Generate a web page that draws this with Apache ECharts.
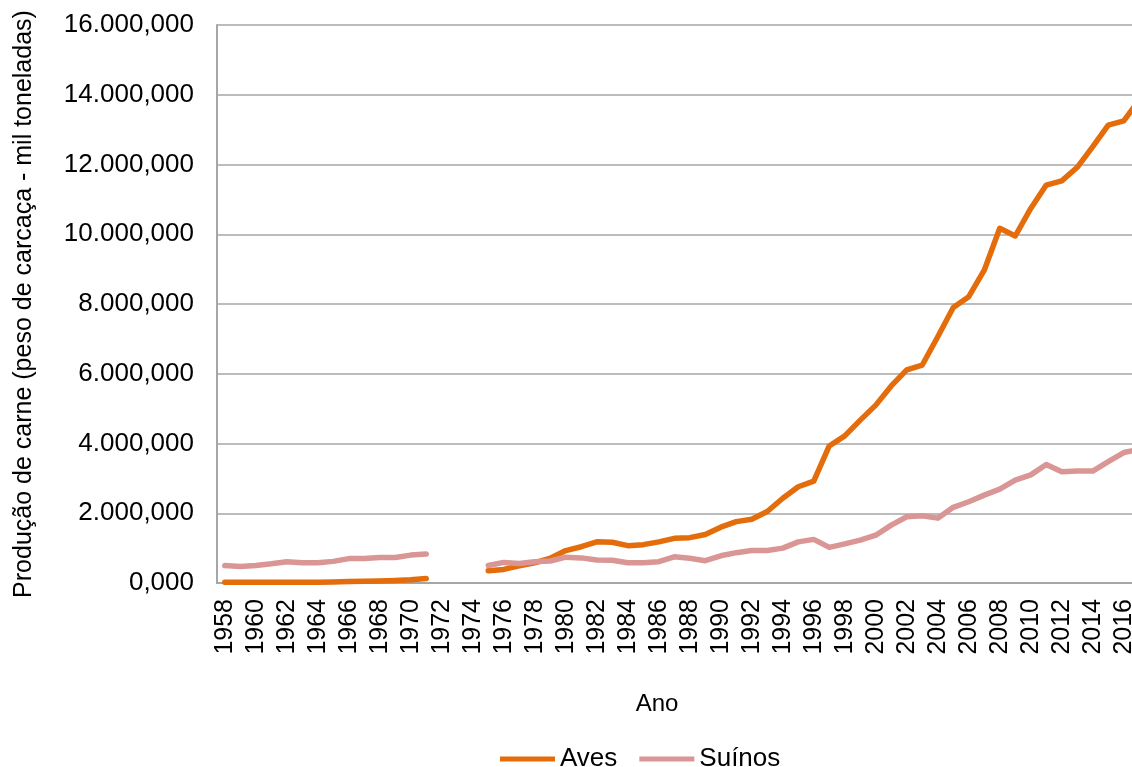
<!DOCTYPE html>
<html>
<head>
<meta charset="utf-8">
<script src="https://cdn.jsdelivr.net/npm/echarts@6/dist/echarts.min.js"></script>
<style>
  html, body { margin: 0; padding: 0; background: #fff; overflow: hidden; }
  /* o gráfico original está cortado à direita: canvas um pouco mais largo que a janela */
  #chart { width: 1147px; height: 767px; }
</style>
</head>
<body>
<div id="chart"></div>
<script>
// anos 1958-2017 (sem dados 1972-1974)
const years = [];
for (let y = 1958; y <= 2017; y++) years.push(String(y));

// produção em mil toneladas
const aves = [
    20, 20, 20, 20, 20, 20, 25, 30, 40, 50, 60, 75, 95, 130,
    null, null, null,
    350, 390, 490, 580, 710, 930, 1040, 1180, 1170, 1070, 1100, 1180, 1280, 1300, 1390,
    1600, 1760, 1830, 2050, 2430, 2760, 2920, 3930, 4220, 4670,
    5100, 5650, 6110, 6250, 7060, 7900, 8210, 8970, 10170, 9950,
    10740, 11410, 11530, 11920, 12510, 13130, 13250, 13850
];

const suinos = [
    500, 470, 500, 550, 610, 580, 580, 620, 700, 700, 730, 730, 800, 830,
    null, null, null,
    500, 590, 560, 610, 630, 740, 720, 660, 650, 580, 580, 610, 750, 710, 640,
    780, 870, 930, 930, 1000, 1180, 1250, 1020, 1120, 1230,
    1370, 1660, 1900, 1930, 1860, 2170, 2330, 2520, 2690, 2950,
    3100, 3400, 3190, 3210, 3210, 3480, 3740, 3830
];

const FONT = '"Liberation Sans", Arial, sans-serif';

// 16000 -> "16.000,000"
function formatPt(v) {
    const parts = v.toFixed(3).split('.');
    const int = parts[0].replace(/\B(?=(\d{3})+(?!\d))/g, '.');
    return int + ',' + parts[1];
}

const chart = echarts.init(document.getElementById('chart'));

chart.setOption({
    animation: false,
    textStyle: { fontFamily: FONT },
    title: {
        text: 'Ano',
        left: 652,
        top: 687,
        textAlign: 'center',
        textStyle: { fontFamily: FONT, fontSize: 24, fontWeight: 'normal', color: '#000' }
    },
    legend: {
        left: 495,
        top: 741,
        itemWidth: 55,
        itemHeight: 5,
        itemGap: 22,
        icon: 'rect',
        textStyle: { fontFamily: FONT, fontSize: 26, color: '#000' },
        data: ['Aves', 'Suínos']
    },
    grid: {
        left: 217,
        top: 25,
        right: 0,
        bottom: 184
    },
    xAxis: {
        type: 'category',
        data: years,
        boundaryGap: true,
        axisLine: { lineStyle: { color: '#a6a6a6', width: 2 } },
        axisTick: { show: false },
        axisLabel: {
            interval: 1,
            rotate: 90,
            margin: 16,
            fontFamily: FONT,
            fontSize: 25,
            color: '#000'
        }
    },
    yAxis: {
        type: 'value',
        min: 0,
        max: 16000,
        interval: 2000,
        name: 'Produção de carne (peso de carcaça - mil toneladas)',
        nameLocation: 'middle',
        nameRotate: 90,
        nameGap: 180,
        nameTextStyle: { fontFamily: FONT, fontSize: 25, color: '#000' },
        axisLine: { show: true, lineStyle: { color: '#a6a6a6', width: 2 } },
        axisTick: { show: false },
        splitLine: { lineStyle: { color: '#a6a6a6', width: 1.5 } },
        axisLabel: {
            margin: 23,
            fontFamily: FONT,
            fontSize: 26,
            color: '#000',
            formatter: formatPt
        }
    },
    series: [
        {
            name: 'Aves',
            type: 'line',
            data: aves,
            symbol: 'none',
            connectNulls: false,
            color: '#e46c0a',
            lineStyle: { width: 5.5, color: '#e46c0a', cap: 'round', join: 'round' }
        },
        {
            name: 'Suínos',
            type: 'line',
            data: suinos,
            symbol: 'none',
            connectNulls: false,
            color: '#d99694',
            lineStyle: { width: 5.5, color: '#d99694', cap: 'round', join: 'round' }
        }
    ]
});
</script>
</body>
</html>
